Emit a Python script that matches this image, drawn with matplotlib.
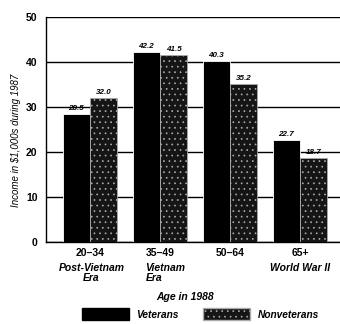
import numpy as np
import matplotlib.pyplot as plt
from matplotlib.patches import Patch

# данные с картинки
ages = ["20–34", "35–49", "50–64", "65+"]
eras = ["Post-Vietnam\nEra", "Vietnam\nEra", "", "World War II"]
veterans = [28.5, 42.2, 40.3, 22.7]
nonveterans = [32.0, 41.5, 35.2, 18.7]

plt.rcParams['font.family'] = ['Liberation Sans', 'DejaVu Sans']
plt.rcParams['hatch.linewidth'] = 0.5

fig = plt.figure(figsize=(3.4, 3.24), dpi=100)
ax = fig.add_axes([0.135, 0.253, 0.865, 0.695])

x = np.arange(len(ages))
w = 0.39
b1 = ax.bar(x - w/2, veterans, w, color='black', edgecolor='white', linewidth=0.6, zorder=3)
b2 = ax.bar(x + w/2, nonveterans, w, color='#151515', edgecolor='#aaaaaa', linewidth=0.6,
            hatch='...', zorder=3)

for bars, vals in ((b1, veterans), (b2, nonveterans)):
    for r, v in zip(bars, vals):
        ax.text(r.get_x() + r.get_width()/2, v + 0.4, "%.1f" % v, ha='center', va='bottom',
                fontsize=5.8, fontweight='bold', fontstyle='italic', zorder=4)

ax.set_xlim(-0.63, 3.57)
ax.set_ylim(0, 50)
ax.set_yticks([0, 10, 20, 30, 40, 50])
ax.yaxis.grid(True, color='black', linewidth=1.0, zorder=0)
ax.set_axisbelow(True)
for s in ['top', 'right']:
    ax.spines[s].set_visible(False)
ax.spines['left'].set_linewidth(1.0)
ax.spines['bottom'].set_linewidth(1.0)
ax.tick_params(axis='y', length=0, pad=6, labelsize=7.5)
ax.tick_params(axis='x', length=0, pad=4, labelsize=7.5)
ax.set_xticks(x)
ax.set_xticklabels(ages, fontweight='bold')
for lab in ax.get_yticklabels():
    lab.set_fontweight('bold')

# подписи эпох под возрастом
era_x = [0.02, 0.79, 2.0, 3.0]
era_ha = ['center', 'left', 'center', 'center']
for xi, e, ha in zip(era_x, eras, era_ha):
    ax.text(xi, -4.7, e, ha=ha, va='top', fontsize=7.5, fontstyle='italic',
            fontweight='bold', linespacing=0.95)

ax.set_ylabel("Income in $1,000s during 1987", fontsize=7, fontstyle='italic')
ax.yaxis.set_label_coords(-0.085, 0.45)
fig.text(0.545, 0.083, "Age in 1988", ha='center', va='center', fontsize=7.5,
         fontstyle='italic', fontweight='bold')

handles = [Patch(facecolor='black', edgecolor='black'),
           Patch(facecolor='#151515', edgecolor='#aaaaaa', hatch='...')]
leg = fig.legend(handles, ["Veterans", "Nonveterans"], loc='center', ncol=2,
                 bbox_to_anchor=(0.59, 0.03), frameon=False, handlelength=4.6,
                 handleheight=1.5, columnspacing=2.4, handletextpad=0.8,
                 prop={'size': 7.3, 'style': 'italic', 'weight': 'bold'})

plt.savefig("out.png", dpi=100)
